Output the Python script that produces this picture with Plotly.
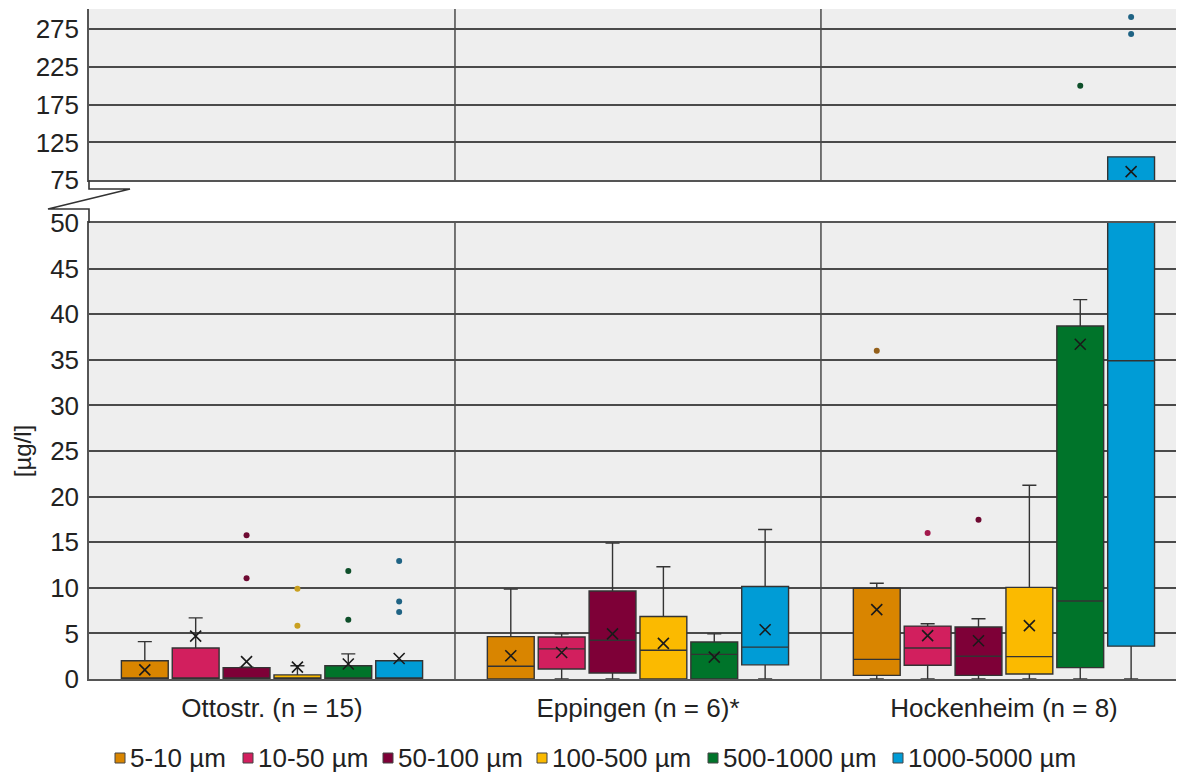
import plotly.graph_objects as go

# ---------------- data ----------------
sites = ["Ottostr. (n = 15)", "Eppingen (n = 6)*", "Hockenheim (n = 8)"]
classes = ["5-10 µm", "10-50 µm", "50-100 µm", "100-500 µm", "500-1000 µm", "1000-5000 µm"]

# statistics indexed [size class][site]
q1 = [
    [0.0, 0.0, 0.4],
    [0.0, 1.1, 1.5],
    [0.0, 0.65, 0.4],
    [0.0, 0.0, 0.55],
    [0.0, 0.0, 1.25],
    [0.0, 1.55, 3.6],
]
median = [
    [0.0, 1.4, 2.15],
    [0.0, 3.3, 3.4],
    [0.0, 4.25, 2.5],
    [0.0, 3.15, 2.45],
    [0.0, 2.7, 8.55],
    [0.0, 3.5, 34.9],
]
q3 = [
    [2.0, 4.65, 9.95],
    [3.4, 4.6, 5.8],
    [1.25, 9.65, 5.7],
    [0.45, 6.85, 10.05],
    [1.45, 4.05, 38.7],
    [2.0, 10.15, 106.0],
]
upperfence = [
    [4.1, 9.85, 10.5],
    [6.7, 4.95, 6.05],
    [1.3, 14.9, 6.6],
    [1.45, 12.3, 21.25],
    [2.75, 4.95, 41.6],
    [2.0, 16.4, 106.0],
]
lowerfence = [
    [0.0, 0.0, 0.0],
    [0.0, 0.0, 0.0],
    [0.0, 0.0, 0.0],
    [0.0, 0.0, 0.0],
    [0.0, 0.0, 0.0],
    [0.0, 0.0, 0.0],
]
mean = [
    [1.0, 2.55, 7.6],
    [4.7, 2.9, 4.75],
    [1.9, 4.95, 4.2],
    [1.3, 3.9, 5.85],
    [1.65, 2.4, 36.7],
    [2.25, 5.4, 86.5],
]
outliers = [
    [[], [], [36.0]],
    [[], [], [16.0]],
    [[15.75, 11.05], [], [17.45]],
    [[9.9, 5.85], [], []],
    [[11.85, 6.5], [], [200.0]],
    [[12.95, 8.5, 7.35], [], [291.0, 268.5]],
]

bottom_ticks = [0, 5, 10, 15, 20, 25, 30, 35, 40, 45, 50]
top_ticks = [75, 125, 175, 225, 275]

# ---------------- style ----------------
fill_colors = ["#D98500", "#D21F5E", "#7E0037", "#FBBA00", "#00742A", "#009CD6"]
outlier_colors = ["#94601A", "#A3184C", "#6E0A32", "#C9A020", "#0E4F2A", "#1F6384"]
FONT = "Liberation Sans, Arial, sans-serif"
FS = 26
TXT = "#222222"
GRID = "#4a4a4a"

# page body adds an 8 px offset; lay out in reference pixel coordinates
OFF = 8
W, H = 1184 - OFF, 774 - OFF
L, R, T, B = 89 - OFF, 0, 9 - OFF, 774 - 679
PW, PH = W - L - R, H - T - B

def paper(px, py):
    return ((px - OFF) - L) / PW, (H - B - (py - OFF)) / PH

step = 0.139
box_w = 0.128

fig = go.Figure()

for i, cls in enumerate(classes):
    xs = [j + (i - 2.5) * step for j in range(len(sites))]
    for xa, ya in (("x", "y"), ("x2", "y2")):
        fig.add_trace(go.Box(
            x=xs, q1=q1[i], median=median[i], q3=q3[i],
            lowerfence=lowerfence[i], upperfence=upperfence[i],
            width=box_w, whiskerwidth=0.3,
            fillcolor=fill_colors[i],
            line=dict(color="#333333", width=1.4),
            name=cls, showlegend=False, hoverinfo="skip",
            xaxis=xa, yaxis=ya,
        ))
        ox, oy = [], []
        for j in range(len(sites)):
            for v in outliers[i][j]:
                ox.append(xs[j])
                oy.append(v)
        fig.add_trace(go.Scatter(
            x=ox, y=oy, mode="markers",
            marker=dict(color=outlier_colors[i], size=6),
            showlegend=False, hoverinfo="skip", xaxis=xa, yaxis=ya,
        ))
        fig.add_trace(go.Scatter(
            x=xs, y=mean[i], mode="markers",
            marker=dict(symbol="x-thin", size=11, line=dict(color="#1a1a1a", width=1.6)),
            showlegend=False, hoverinfo="skip", xaxis=xa, yaxis=ya,
        ))

shapes = []
for xv in (0.5, 1.5):
    for yr in ("y domain", "y2 domain"):
        shapes.append(dict(type="line", xref="x", yref=yr, x0=xv, x1=xv, y0=0, y1=1,
                           line=dict(color=GRID, width=1.5), layer="above"))

# axis-break zigzag
pts = [(89, 180.3), (89, 189), (130, 189), (48, 209), (89, 209), (89, 223)]
pp = [paper(*p) for p in pts]
path = "M " + " L ".join(f"{a:.5f},{b:.5f}" for a, b in pp)
shapes.append(dict(type="path", xref="paper", yref="paper", path=path,
                   line=dict(color="#333333", width=1.6)))

# legend (squares + text), placed like the reference
legend_left = [115, 243, 383, 537, 708, 893]
legend_y = 758
annotations = []
for i, cls in enumerate(classes):
    x0, y0 = paper(legend_left[i], legend_y + 5)
    x1, y1 = paper(legend_left[i] + 10, legend_y - 5)
    shapes.append(dict(type="rect", xref="paper", yref="paper", x0=x0, x1=x1, y0=y0, y1=y1,
                       fillcolor=fill_colors[i], line=dict(color="#444444", width=1)))
    tx, ty = paper(legend_left[i] + 13, legend_y)
    annotations.append(dict(xref="paper", yref="paper", x=tx, y=ty, text=cls,
                            showarrow=False, xanchor="left", yanchor="middle",
                            font=dict(size=FS, color=TXT, family=FONT)))

bot_top = (H - B - (223 - OFF)) / PH
top_bot = (H - B - (180.3 - OFF)) / PH

axis_common = dict(showgrid=True, gridcolor=GRID, gridwidth=1.6, zeroline=False,
                   showline=True, linecolor="#555555", linewidth=1.5, ticks="",
                   ticklabelstandoff=3,
                   tickfont=dict(size=FS, color=TXT, family=FONT))

fig.update_layout(
    width=W, height=H,
    margin=dict(l=L, r=R, t=T, b=B, autoexpand=False),
    paper_bgcolor="white", plot_bgcolor="#eeeeee",
    font=dict(family=FONT, size=FS, color=TXT),
    boxmode="overlay",
    showlegend=False,
    xaxis=dict(domain=[0, 1], anchor="y", range=[-0.5, 2.492],
               tickvals=[0, 1, 2], ticktext=sites, showgrid=False, zeroline=False,
               showline=True, mirror=True, linecolor="#555555", linewidth=1.5,
               ticks="", ticklabelstandoff=5,
               tickfont=dict(size=FS, color=TXT, family=FONT)),
    xaxis2=dict(matches="x", anchor="y2", showticklabels=False, showgrid=False,
                zeroline=False, showline=True, linecolor="#555555", linewidth=1.5,
                ticks=""),
    yaxis=dict(domain=[0, bot_top], range=[0, 50], tickvals=bottom_ticks,
               title=dict(text="[µg/l]", standoff=12,
                          font=dict(size=FS - 2, color=TXT, family=FONT)),
               **axis_common),
    yaxis2=dict(domain=[top_bot, 1], range=[75, 301.5], tickvals=top_ticks,
                **axis_common),
    shapes=shapes,
    annotations=annotations,
)

fig.write_html("out.html")
